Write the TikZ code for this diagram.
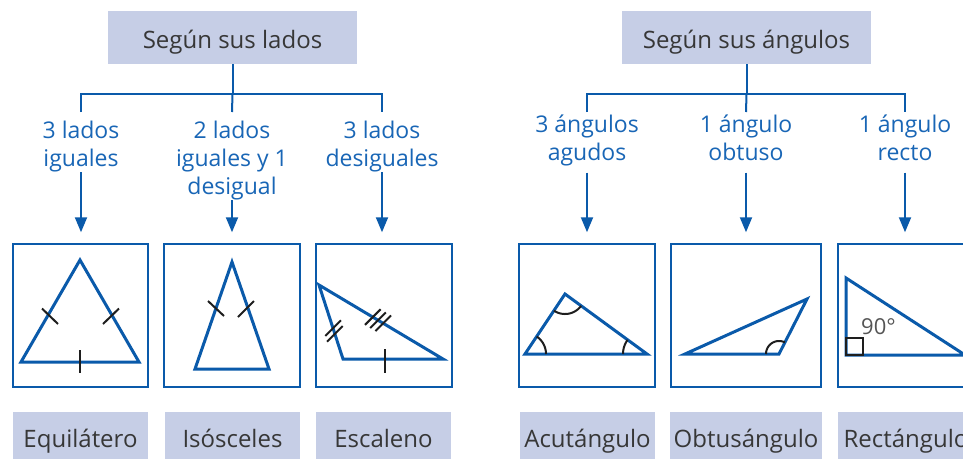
\documentclass[tikz,border=0pt]{standalone}
\usepackage{fontspec}
\setmainfont{Open Sans}
\usetikzlibrary{arrows.meta,calc}
\definecolor{lineblue}{RGB}{10,90,170}
\definecolor{textblue}{RGB}{25,102,182}
\definecolor{hdrfill}{RGB}{198,206,230}
\definecolor{darktext}{RGB}{55,55,55}
\definecolor{tickcol}{RGB}{30,30,30}
\definecolor{numgray}{RGB}{85,85,85}
\begin{document}
\begin{tikzpicture}[x=1pt,y=-1pt,
  hdr/.style={fill=hdrfill, text=darktext, font=\fontsize{24}{28}\selectfont, minimum width=249pt, minimum height=53pt, inner sep=0pt, text height=21pt, text depth=0pt},
  cat/.style={text=textblue, font=\fontsize{23}{28}\selectfont, align=center, inner sep=0pt, anchor=north},
  picbox/.style={draw=lineblue, line width=1.5pt, minimum width=135pt, minimum height=143pt, inner sep=0pt},
  lab/.style={fill=hdrfill, text=darktext, font=\fontsize{24}{28}\selectfont, minimum height=58pt, minimum width=135pt, inner sep=0pt, text height=18pt, text depth=6pt},
  conn/.style={draw=lineblue, line width=2pt},
  arr/.style={conn, -{Triangle[length=15pt,width=12pt]}, shorten >=11pt},
  tri/.style={draw=lineblue, line width=3pt, line join=miter},
  tickmk/.style={draw=tickcol, line width=2pt},
]
\clip (0,0) rectangle (963,458);
\fill[white] (0,0) rectangle (963,458);

% headers
\node[hdr] (h1) at (232.5,37.5) {Según sus lados};
\node[hdr] (h2) at (746.5,37.5) {Según sus ángulos};

% category labels
\node[cat] (c1) at (81,121) {3 lados\\iguales};
\node[cat] (c2) at (232,121) {2 lados\\iguales y 1\\desigual};
\node[cat] (c3) at (382,121) {3 lados\\desiguales};
\node[cat] (c4) at (587,115) {3 ángulos\\agudos};
\node[cat] (c5) at (746,115) {1 ángulo\\obtuso};
\node[cat] (c6) at (905,115) {1 ángulo\\recto};

% picture boxes
\node[picbox] (b1) at (80.5,315.5) {};
\node[picbox, minimum width=136pt] (b2) at (232,315.5) {};
\node[picbox, minimum width=136pt] (b3) at (384,315.5) {};
\node[picbox, minimum width=136pt] (b4) at (587,315.5) {};
\node[picbox, minimum width=150pt] (b5) at (746,315.5) {};
\node[picbox, minimum width=136pt] (b6) at (906,315.5) {};

% bottom labels
\node[lab] (l1) at (80.5,441) {Equilátero};
\node[lab] (l2) at (232.5,441) {Isósceles};
\node[lab] (l3) at (383.5,441) {Escaleno};
\node[lab] (l4) at (587.5,441) {Acutángulo};
\node[lab, minimum width=152pt] (l5) at (746,441) {Obtusángulo};
\node[lab, minimum width=136pt] (l6) at (906,441) {Rectángulo};

% branches
\coordinate (j1) at ($(h1.south)+(0,30)$);
\coordinate (j2) at ($(h2.south)+(0,30)$);
\draw[conn] (h1.south) -- (j1);
\draw[conn] ($(c1.north)+(0,-9)$) |- (j1) -| ($(c3.north)+(0,-9)$);
\draw[conn] (j1) -- ($(c2.north)+(0,-9)$);
\draw[conn] (h2.south) -- (j2);
\draw[conn] ($(c4.north)+(0,-3)$) |- (j2) -| ($(c6.north)+(0,-3)$);
\draw[conn] (j2) -- ($(c5.north)+(0,-3)$);

% arrows
\draw[arr] (c1.south) -- (c1.south |- b1.north);
\draw[arr] (c2.south) -- (c2.south |- b2.north);
\draw[arr] (c3.south) -- (c3.south |- b3.north);
\draw[arr, shorten <=6pt] (c4.south) -- (c4.south |- b4.north);
\draw[arr, shorten <=11.5pt] (c5.south) -- (c5.south |- b5.north);
\draw[arr, shorten <=11.5pt] (c6.south) -- (c6.south |- b6.north);

% equilateral
\draw[tri] (80,260) -- (21,362) -- (139,362) -- cycle;
\draw[tickmk] (42,308.5) -- (58,324);
\draw[tickmk] (103,324) -- (119,308.5);
\draw[tickmk] (80,350) -- (80,373);

% isosceles
\draw[tri] (232,262) -- (195,369) -- (269,369) -- cycle;
\draw[tickmk] (208,301) -- (224,316);
\draw[tickmk] (238,317) -- (254,301);

% scalene
\draw[tri] (319,285) -- (343,359) -- (443,359) -- cycle;
\draw[tickmk] (385,349) -- (385,373);
\draw[tickmk] (325.3,335.9) -- (340.9,320.3);
\draw[tickmk] (327.1,341.7) -- (342.7,326.1);
\draw[tickmk] (365,324.9) -- (380.6,309.3);
\draw[tickmk] (370.2,328) -- (385.8,312.4);
\draw[tickmk] (375.4,331.1) -- (391,315.5);

% acute
\draw[tri] (525,354) -- (565,294) -- (647,354) -- cycle;
\draw[tickmk] plot[domain=0:56.3, samples=20] ({525+21*cos(\x)},{354-21*sin(\x)});
\draw[tickmk] plot[domain=-123.7:-36.2, samples=30] ({565+20*cos(\x)},{294-20*sin(\x)});
\draw[tickmk] plot[domain=143.8:180, samples=20] ({647+24*cos(\x)},{354-24*sin(\x)});

% obtuse
\draw[tri] (685,354) -- (779,354) -- (807,299) -- cycle;
\draw[tickmk] plot[domain=63:180, samples=30] ({779+13*cos(\x)},{354-13*sin(\x)});

% right
\draw[tri] (846,278) -- (846,355) -- (965,355) -- cycle;
\draw[tickmk] (846,338) rectangle (863,355);
\node[font=\fontsize{22}{26}\selectfont, text=numgray, inner sep=0pt] (ang) at (878.5,327) {90°};
\end{tikzpicture}
\end{document}
